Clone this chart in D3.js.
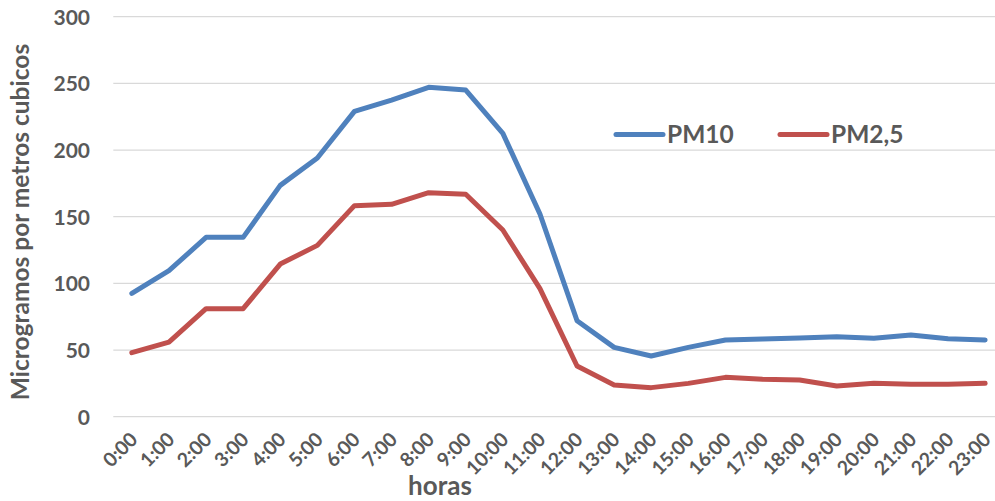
<!DOCTYPE html>
<html>
<head>
<meta charset="utf-8">
<script src="https://cdn.jsdelivr.net/npm/d3@7/dist/d3.min.js"></script>
<style>
  html, body { margin: 0; padding: 0; background: #fff; }
  svg { display: block; }
  text { font-family: Lato, "Open Sans", sans-serif; font-weight: bold; fill: #595959; }
</style>
</head>
<body>
<svg id="chart" width="995" height="501"></svg>
<script>
// Hourly particulate concentrations
const hours = ["0:00","1:00","2:00","3:00","4:00","5:00","6:00","7:00","8:00","9:00","10:00","11:00",
               "12:00","13:00","14:00","15:00","16:00","17:00","18:00","19:00","20:00","21:00","22:00","23:00"];
const pm10 = [92.5, 109.5, 134.5, 134.5, 173.5, 194, 229, 237.5, 247, 245, 212.5, 152,
              72, 52, 45.5, 52, 57.5, 58.3, 59, 60, 58.8, 61.3, 58.5, 57.5];
const pm25 = [48, 56, 81, 81, 114.5, 128.5, 158.3, 159.3, 168, 166.8, 140, 96,
              38, 23.8, 21.8, 25, 29.5, 28, 27.5, 23, 25, 24.3, 24.3, 25];
const yTicks = [0, 50, 100, 150, 200, 250, 300];
const seriesNames = ["PM10", "PM2,5"];
const seriesColors = ["#4F81BD", "#C0504D"];

const svg = d3.select("#chart");
const left = 113.3, step = 37.1;
const x = d3.scaleBand().domain(hours).range([left, left + step * hours.length]);
const y = d3.scaleLinear().domain([0, 300]).range([416.7, 16.7]);

// gridlines
svg.append("g").selectAll("line").data(yTicks).join("line")
  .attr("x1", left).attr("x2", 995)
  .attr("y1", d => y(d)).attr("y2", d => y(d))
  .attr("stroke", "#d9d9d9").attr("stroke-width", 1.3);

// y axis
const yAxis = svg.append("g").attr("transform", "translate(90,0)")
  .call(d3.axisLeft(y).tickValues(yTicks).tickSize(0).tickPadding(0));
yAxis.select(".domain").remove();
yAxis.selectAll("text").attr("font-size", 21).attr("dy", "0.36em");

// x axis
const xAxis = svg.append("g").attr("transform", "translate(0,417)")
  .call(d3.axisBottom(x).tickSize(0).tickPadding(0));
xAxis.select(".domain").remove();
xAxis.selectAll("text")
  .attr("font-size", 19.5)
  .attr("text-anchor", "end")
  .attr("dy", "0.35em")
  .attr("y", 0)
  .attr("transform", "translate(2,19) rotate(-45)");

// axis titles
svg.append("text").attr("x", 440).attr("y", 495).attr("text-anchor", "middle")
  .attr("font-size", 26).text("horas");
svg.append("text").attr("transform", "translate(29,222) rotate(-90)")
  .attr("text-anchor", "middle").attr("font-size", 24.5)
  .text("Microgramos por metros cubicos");

// lines
const line = d3.line().x((d, i) => x(hours[i]) + x.bandwidth() / 2).y(d => y(d));
[pm10, pm25].forEach((s, k) => {
  svg.append("path").datum(s).attr("d", line)
    .attr("fill", "none").attr("stroke", seriesColors[k])
    .attr("stroke-width", 5).attr("stroke-linejoin", "round").attr("stroke-linecap", "round");
});

// legend
const legendX = [616, 780];
seriesNames.forEach((n, k) => {
  const g = svg.append("g").attr("transform", `translate(${legendX[k]},134.5)`);
  g.append("line").attr("x1", 0).attr("x2", 47).attr("stroke", seriesColors[k])
    .attr("stroke-width", 5).attr("stroke-linecap", "round");
  g.append("text").attr("x", 51).attr("dy", "0.36em").attr("font-size", 24.5).text(n);
});
</script>
</body>
</html>
